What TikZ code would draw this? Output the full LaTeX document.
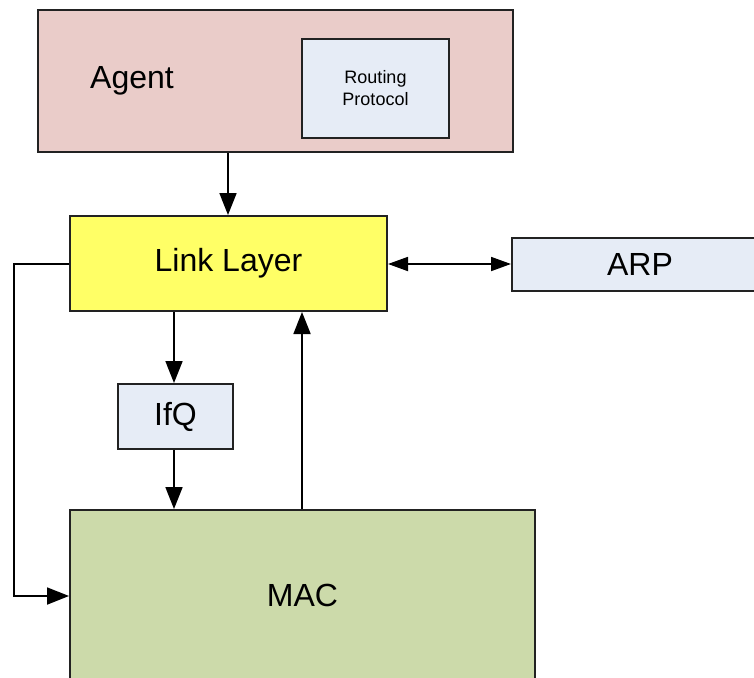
\documentclass[tikz,border=0pt]{standalone}
\usepackage{fontspec}
\setmainfont{Liberation Sans}
\usetikzlibrary{arrows.meta}
\definecolor{agentfill}{RGB}{234,204,201}
\definecolor{bluefill}{RGB}{230,236,246}
\definecolor{llfill}{RGB}{255,255,102}
\definecolor{macfill}{RGB}{204,218,170}
\definecolor{edge}{RGB}{34,34,34}
\tikzset{
  blk/.style={draw=edge, line width=2pt, rectangle, inner sep=0pt, align=center,
              font=\fontsize{32}{38}\selectfont},
  conn/.style={line width=1.8pt, draw=black, -{Triangle[length=22pt,width=17pt]}},
  biconn/.style={line width=1.8pt, draw=black, {Triangle[length=20pt,width=14pt]}-{Triangle[length=20pt,width=14pt]}}
}
\begin{document}
\begin{tikzpicture}[x=1pt,y=-1pt]
\useasboundingbox (0,0) rectangle (754,677);
\clip (0,0) rectangle (754,677);
\node[blk, fill=agentfill, minimum width=475pt, minimum height=142pt] (agent) at (275.5,81) {};
\node[font=\fontsize{32}{38}\selectfont, inner sep=0pt] (agentlabel) at (132,81) {Agent};
\node[blk, fill=bluefill, minimum width=147pt, minimum height=99pt,
      font=\fontsize{18}{22}\selectfont] (routing) at (375.5,88.5) {Routing\\Protocol};
\node[blk, fill=llfill, minimum width=317pt, minimum height=95pt] (ll) at (228.5,263.5) {Link Layer};
\node[blk, fill=bluefill, minimum width=256pt, minimum height=53pt] (arp) at (640,264.5) {ARP};
\node[blk, fill=bluefill, minimum width=115pt, minimum height=65pt] (ifq) at (175.5,416.5) {IfQ};
\node[blk, fill=macfill, minimum width=465pt, minimum height=170pt] (mac) at (302.5,595) {MAC};
\coordinate (tl) at (14,264);
\coordinate (bl) at (14,596);
% connectors
\draw[conn] (agent.south -| 228,0) -- (ll.north -| 228,0);
\draw[biconn] (ll.east |- 0,264) -- (arp.west |- 0,264);
\draw[conn] (ll.south -| 174,0) -- (ifq.north -| 174,0);
\draw[conn] (ifq.south -| 174,0) -- (mac.north -| 174,0);
\draw[conn] (mac.north -| 302,0) -- (ll.south -| 302,0);
\draw[conn] (ll.west |- tl) -- (tl) -- (bl) -- (mac.west |- bl);
\end{tikzpicture}
\end{document}
